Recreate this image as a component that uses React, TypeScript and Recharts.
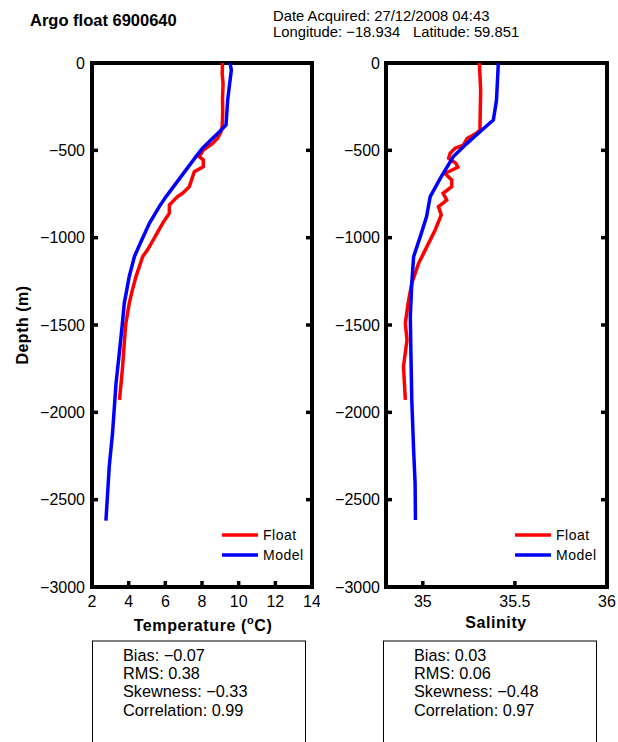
import React from "react";
import { ScatterChart, Scatter, XAxis, YAxis, ReferenceArea } from "recharts";

const FONT = '"Liberation Sans", Arial, Helvetica, sans-serif';

// depth below surface (m) and values
const floatTempDepth = [0, 60, 120, 200, 280, 365, 393, 430, 460, 498, 536, 555, 594, 622, 708, 746, 765, 813, 860, 918, 985, 1070, 1109, 1223, 1300, 1376, 1490, 1547, 1738, 1929];
const floatTemp = [9.12, 9.1, 9.15, 9.12, 9.13, 9.1, 9.04, 8.85, 8.58, 8.07, 7.85, 8.07, 8.07, 7.58, 7.31, 6.94, 6.67, 6.22, 6.22, 5.85, 5.49, 5.03, 4.76, 4.4, 4.2, 4.03, 3.85, 3.8, 3.67, 3.5];

const modelTempDepth = [0, 40, 212, 355, 393, 450, 488, 536, 612, 689, 765, 822, 918, 1023, 1109, 1223, 1376, 1510, 1650, 1834, 2120, 2311, 2620];
const modelTemp = [9.53, 9.6, 9.4, 9.31, 8.95, 8.4, 8.03, 7.67, 7.13, 6.58, 6.04, 5.67, 5.13, 4.67, 4.31, 4.03, 3.76, 3.64, 3.5, 3.31, 3.12, 2.94, 2.76];

const floatSalDepth = [0, 155, 383, 403, 432, 470, 488, 517, 546, 575, 597, 632, 670, 708, 746, 785, 822, 870, 956, 1090, 1147, 1261, 1376, 1490, 1586, 1738, 1929];
const floatSal = [35.307, 35.314, 35.31, 35.29, 35.24, 35.22, 35.175, 35.148, 35.14, 35.18, 35.19, 35.12, 35.157, 35.157, 35.11, 35.13, 35.085, 35.1, 35.067, 35.004, 34.977, 34.94, 34.92, 34.905, 34.914, 34.895, 34.905];

const modelSalDepth = [0, 212, 326, 403, 460, 536, 650, 765, 880, 994, 1109, 1261, 1452, 1643, 1929, 2215, 2406, 2616];
const modelSal = [35.41, 35.4, 35.383, 35.3, 35.24, 35.166, 35.1, 35.04, 35.02, 34.986, 34.95, 34.94, 34.932, 34.935, 34.94, 34.95, 34.958, 34.96];

const depthTicks = [0, -500, -1000, -1500, -2000, -2500, -3000];
const tempTicks = [2, 4, 6, 8, 10, 12, 14];
const salTicks = [35, 35.5, 36];

const tempStats = ["Bias: \u22120.07", "RMS: 0.38", "Skewness: \u22120.33", "Correlation: 0.99"];
const salStats = ["Bias: 0.03", "RMS: 0.06", "Skewness: \u22120.48", "Correlation: 0.97"];

const toPoints = (depths: number[], values: number[]) =>
  depths.map((d, i) => ({ x: values[i], y: -d }));

const fmtDepth = (v: number) => (v < 0 ? `\u2212${Math.abs(v)}` : `${v}`);
const noMarker = () => <g />;

const TICK_LEN = 6;
const TICK_W = 3.5;

// inward tick marks (matlab style) drawn together with the label
type Side = "left" | "right" | "top" | "bottom";
const makeTick = (side: Side, margin: number, label: boolean, fmt?: (v: number) => string) =>
  function Tick(props: any) {
    const { x, y, payload } = props;
    const text = fmt ? fmt(payload.value) : String(payload.value);
    let c = { x1: x, x2: x, y1: y, y2: y };
    if (side === "left") c = { x1: x + margin, x2: x + margin + TICK_LEN, y1: y, y2: y };
    else if (side === "right") c = { x1: x - margin, x2: x - margin - TICK_LEN, y1: y, y2: y };
    else if (side === "top") c = { x1: x, x2: x, y1: y + margin, y2: y + margin + TICK_LEN };
    else c = { x1: x, x2: x, y1: y - margin, y2: y - margin - TICK_LEN };
    return (
      <g>
        <line {...c} stroke="#000" strokeWidth={TICK_W} />
        {label && (
          <text
            x={x}
            y={y}
            dy={side === "bottom" ? "0.71em" : "0.355em"}
            textAnchor={side === "left" ? "end" : "middle"}
            fill="#000"
            fontSize={16}
            fontFamily={FONT}
          >
            {text}
          </text>
        )}
      </g>
    );
  };

interface PanelProps {
  left: number;
  width: number;
  xDomain: [number, number];
  xTicks: number[];
  yWidth: number;
  rightMargin: number;
  yTickMargin: number;
  floatPts: { x: number; y: number }[];
  modelPts: { x: number; y: number }[];
}

function ProfilePanel({ left, width, xDomain, xTicks, yWidth, rightMargin, yTickMargin, floatPts, modelPts }: PanelProps) {
  return (
    <div style={{ position: "absolute", left, top: 0 }}>
      {/* top and right axes are 1px wide: a zero-size axis is not drawn */}
      <ScatterChart width={width} height={620} margin={{ top: 62, right: rightMargin - 1, bottom: 0, left: 0 }}>
        <XAxis
          xAxisId="b"
          type="number"
          dataKey="x"
          domain={xDomain}
          ticks={xTicks}
          interval={0}
          allowDataOverflow
          axisLine={false}
          tickLine={false}
          tickSize={0}
          tickMargin={9}
          height={33}
          tick={makeTick("bottom", 9, true)}
        />
        <XAxis
          xAxisId="t"
          orientation="top"
          type="number"
          domain={xDomain}
          ticks={xTicks}
          interval={0}
          allowDataOverflow
          axisLine={false}
          tickLine={false}
          tickSize={0}
          tickMargin={0}
          tick={makeTick("top", 0, false)}
          height={1}
        />
        <YAxis
          yAxisId="l"
          type="number"
          dataKey="y"
          domain={[-3000, 0]}
          ticks={depthTicks}
          interval={0}
          allowDataOverflow
          axisLine={false}
          tickLine={false}
          tickSize={0}
          tickMargin={yTickMargin}
          width={yWidth}
          tick={makeTick("left", yTickMargin, true, fmtDepth)}
        />
        <YAxis
          yAxisId="r"
          orientation="right"
          type="number"
          domain={[-3000, 0]}
          ticks={depthTicks}
          interval={0}
          allowDataOverflow
          axisLine={false}
          tickLine={false}
          tickSize={0}
          tickMargin={0}
          tick={makeTick("right", 0, false)}
          width={1}
        />
        <Scatter
          xAxisId="b"
          yAxisId="l"
          data={floatPts}
          fill="#ff0000"
          line={{ stroke: "#ff0000", strokeWidth: 3.5 }}
          lineJointType="linear"
          shape={noMarker}
          isAnimationActive={false}
        />
        <Scatter
          xAxisId="b"
          yAxisId="l"
          data={modelPts}
          fill="#0000ff"
          line={{ stroke: "#0000ff", strokeWidth: 3.5 }}
          lineJointType="linear"
          shape={noMarker}
          isAnimationActive={false}
        />
        <ReferenceArea
          xAxisId="b"
          yAxisId="l"
          x1={xDomain[0]}
          x2={xDomain[1]}
          y1={-3000}
          y2={0}
          fill="none"
          fillOpacity={0}
          stroke="#000"
          strokeWidth={4}
          strokeOpacity={1}
        />
      </ScatterChart>
    </div>
  );
}

function Legend({ x, y }: { x: number; y: number }) {
  return (
    <g fontFamily={FONT} fontSize={14} letterSpacing={0.5}>
      <line x1={x} x2={x + 36} y1={y} y2={y} stroke="#ff0000" strokeWidth={3.5} />
      <text x={x + 41} y={y + 5}>Float</text>
      <line x1={x} x2={x + 36} y1={y + 20} y2={y + 20} stroke="#0000ff" strokeWidth={3.5} />
      <text x={x + 41} y={y + 25}>Model</text>
    </g>
  );
}

function StatsBox({ x, lines }: { x: number; lines: string[] }) {
  return (
    <g fontFamily={FONT} fontSize={16.3}>
      <rect x={x + 0.5} y={641} width={213} height={120} fill="none" stroke="#000" strokeWidth={1} />
      {lines.map((t, i) => (
        <text key={t} x={x + 31} y={660.5 + i * 18.4}>
          {t}
        </text>
      ))}
    </g>
  );
}

export default function App() {
  return (
    <div style={{ position: "absolute", left: 0, top: 0, width: 618, height: 742, background: "#fff", overflow: "hidden" }}>
      <ProfilePanel
        left={0}
        width={320}
        xDomain={[2, 14]}
        xTicks={tempTicks}
        yWidth={92}
        rightMargin={8}
        yTickMargin={7}
        floatPts={toPoints(floatTempDepth, floatTemp)}
        modelPts={toPoints(modelTempDepth, modelTemp)}
      />
      <ProfilePanel
        left={300}
        width={318}
        xDomain={[34.8, 36]}
        xTicks={salTicks}
        yWidth={86}
        rightMargin={11}
        yTickMargin={6}
        floatPts={toPoints(floatSalDepth, floatSal)}
        modelPts={toPoints(modelSalDepth, modelSal)}
      />
      <svg width={618} height={742} style={{ position: "absolute", left: 0, top: 0, pointerEvents: "none" }}>
        <text x={30} y={26} fontFamily={FONT} fontSize={16.5} fontWeight="bold">Argo float 6900640</text>
        <g fontFamily={FONT} fontSize={14.8}>
          <text x={273} y={21}>Date Acquired: 27/12/2008 04:43</text>
          <text x={273} y={37}>Longitude: {"\u2212"}18.934</text>
          <text x={413} y={37}>Latitude: 59.851</text>
        </g>
        <text
          x={0}
          y={0}
          transform="translate(28,325) rotate(-90)"
          textAnchor="middle"
          fontFamily={FONT}
          fontSize={16}
          fontWeight="bold"
          letterSpacing={0.5}
        >
          Depth (m)
        </text>
        <text x={203} y={631} textAnchor="middle" fontFamily={FONT} fontSize={16} fontWeight="bold" letterSpacing={0.6}>
          Temperature (<tspan dy={-7} fontSize={11}>o</tspan>
          <tspan dy={7}>C)</tspan>
        </text>
        <text x={496} y={628} textAnchor="middle" fontFamily={FONT} fontSize={16} fontWeight="bold" letterSpacing={0.6}>
          Salinity
        </text>
        <Legend x={222} y={535} />
        <Legend x={515} y={535} />
        <StatsBox x={92} lines={tempStats} />
        <StatsBox x={383} lines={salStats} />
      </svg>
    </div>
  );
}
